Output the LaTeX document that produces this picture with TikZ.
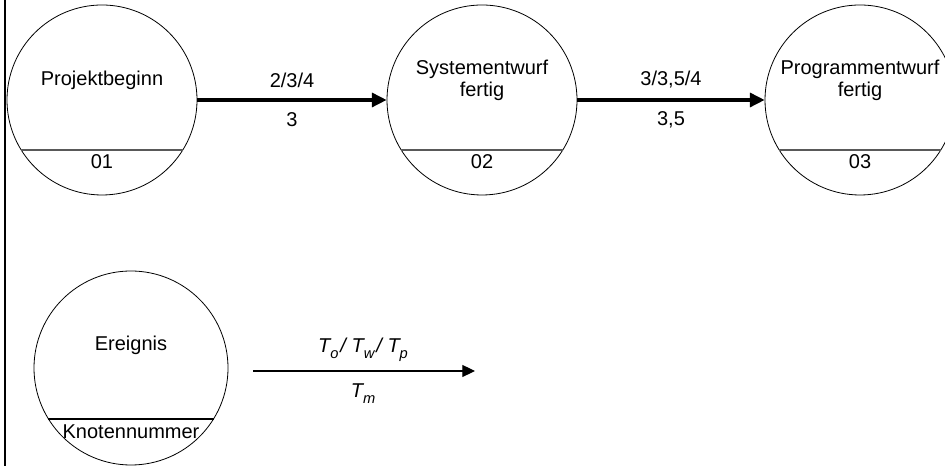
\documentclass[tikz,border=0pt]{standalone}
\usepackage{fontspec}
\setmainfont{Liberation Sans}
\usetikzlibrary{arrows.meta,positioning,calc}
\newcommand\tsub[1]{\raisebox{-4.5pt}{\fontsize{11}{11}\selectfont #1}\kern1.5pt}
\tikzset{
  event/.style={circle,draw=black,line width=.6pt,minimum size=142.5pt,inner sep=0pt},
  eventtext/.style={align=center,font=\fontsize{15}{16.5}\selectfont,inner sep=0pt},
  chord/.style={draw=black!65,line width=1.3pt},
  flow/.style={-{Triangle[length=11pt,width=10.5pt]},line width=2.3pt},
  legendflow/.style={-{Triangle[length=9.5pt,width=9pt]},line width=.8pt},
  flowlabel/.style={font=\fontsize{15}{17}\selectfont,inner sep=0pt},
}

\begin{document}
\begin{tikzpicture}[x=.75pt,y=.75pt]
  \useasboundingbox (0,0) rectangle (945,466);
  \clip (0,0) rectangle (945,466);
  \draw[line width=2.2pt] (5,0) -- (5,466);
  % Ereignisse
  \foreach \nm/\xx/\txt/\num in {e1/102/Projektbeginn/01,e2/482/{Systementwurf\\fertig}/02,e3/860/{Programmentwurf\\fertig}/03}{
    \node[event] (\nm) at (\xx,366) {};
    \node[eventtext] (\nm-txt) at ($(\nm)+(0,20)$) {\txt};
    \draw[chord] ($(\nm)+(-81,-50)$) -- ($(\nm)+(81,-50)$);
    \node[eventtext] (\nm-num) at ($(\nm)+(0,-62)$) {\num};
  }
  \draw[flow] (e1) -- node[flowlabel,yshift=15pt] (a1-top) {2/3/4} node[flowlabel,yshift=-15pt] (a1-bot) {3} (e2);
  \draw[flow] (e2) -- node[flowlabel,yshift=15pt] (a2-top) {3/3,5/4} node[flowlabel,yshift=-15pt] (a2-bot) {3,5} (e3);
  % Legende
  \node[event,minimum size=145.5pt] (e4) at (131,98) {};
  \node[eventtext] (e4-txt) at ($(e4)+(0,23)$) {Ereignis};
  \draw[line width=.8pt] ($(e4)+(-83,-51)$) -- ($(e4)+(83,-51)$);
  \node[eventtext] (e4-num) at ($(e4)+(0,-64)$) {Knotennummer};
  \coordinate (ls) at (253,95);
  \coordinate (le) at (475,95);
  \draw[legendflow] (ls) -- node[flowlabel,anchor=base,yshift=13.5pt] (l-top) {\itshape T\tsub{o}/ T\tsub{w}/ T\tsub{p}} node[flowlabel,anchor=base,yshift=-20.25pt] (l-bot) {\itshape T\tsub{m}} (le);
\end{tikzpicture}
\end{document}
